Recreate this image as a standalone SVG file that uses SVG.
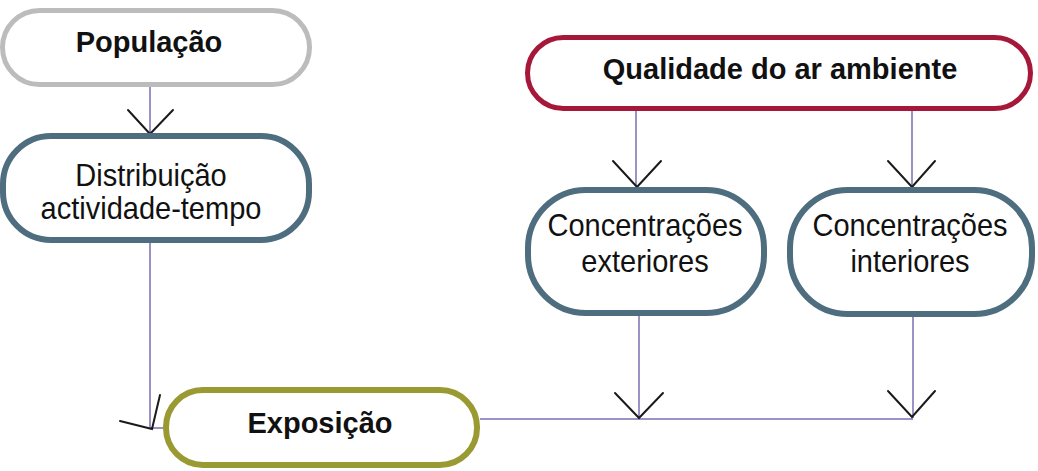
<svg xmlns="http://www.w3.org/2000/svg" width="1038" height="471" viewBox="0 0 1038 471">
<style>
.node{fill:#ffffff;}
.gray{stroke:#bcbcbc;stroke-width:5;}
.slate{stroke:#4e6d7e;stroke-width:6;}
.olive{stroke:#9a9a32;stroke-width:6;}
.red{stroke:#a6183a;stroke-width:5;}
.t{font-family:"Liberation Sans",Arial,sans-serif;font-size:29px;fill:#111111;text-anchor:middle;}
.b{font-weight:bold;}
.line{fill:none;stroke:#7672b0;stroke-width:1.5;}
.head{fill:none;stroke:#1a1a1a;stroke-width:2;stroke-linecap:round;stroke-linejoin:miter;}
</style>
<rect width="1038" height="471" fill="#ffffff"/>
<g id="connectors">
<path class="line" d="M150 86 V134"/>
<polyline class="head" points="128,110 150,134 173,110"/>
<path class="line" d="M150 242 V428 H163"/>
<polyline class="head" points="120,421 152,429 160,395"/>
<path class="line" d="M636 111 V186"/>
<polyline class="head" points="613,161 637,187 661,161"/>
<path class="line" d="M912 111 V186"/>
<polyline class="head" points="888,161 912,187 935,161"/>
<path class="line" d="M639 315 V418"/>
<path class="line" d="M913 316 V418"/>
<path class="line" d="M480 419 H913"/>
<polyline class="head" points="615,393 639,418 663,393"/>
<polyline class="head" points="888,391 912,417 935,391"/>
</g>
<g id="populacao">
<rect class="node gray" x="2.5" y="10.5" width="307" height="74" rx="37" ry="37"/>
<text class="t b" x="149" y="52">População</text>
</g>
<g id="distribuicao">
<rect class="node slate" x="3" y="136" width="306" height="104" rx="48" ry="48"/>
<text class="t" transform="translate(151,186) scale(1,1.08)">Distribuição</text>
<text class="t" transform="translate(151,219) scale(1,1.08)">actividade-tempo</text>
</g>
<g id="qualidade">
<rect class="node red" x="527.5" y="37.5" width="503" height="71" rx="36" ry="36"/>
<text class="t b" x="780" y="79">Qualidade do ar ambiente</text>
</g>
<g id="conc-exteriores">
<rect class="node slate" x="528" y="190" width="236" height="123" rx="58" ry="58"/>
<text class="t" transform="translate(645,236) scale(1,1.08)">Concentrações</text>
<text class="t" transform="translate(645,272) scale(1,1.08)">exteriores</text>
</g>
<g id="conc-interiores">
<rect class="node slate" x="790" y="190" width="242" height="124" rx="58" ry="58"/>
<text class="t" transform="translate(910,236) scale(1,1.08)">Concentrações</text>
<text class="t" transform="translate(910,272) scale(1,1.08)">interiores</text>
</g>
<g id="exposicao">
<rect class="node olive" x="166" y="390" width="311" height="75" rx="37" ry="37"/>
<text class="t b" x="320" y="433">Exposição</text>
</g>
</svg>
